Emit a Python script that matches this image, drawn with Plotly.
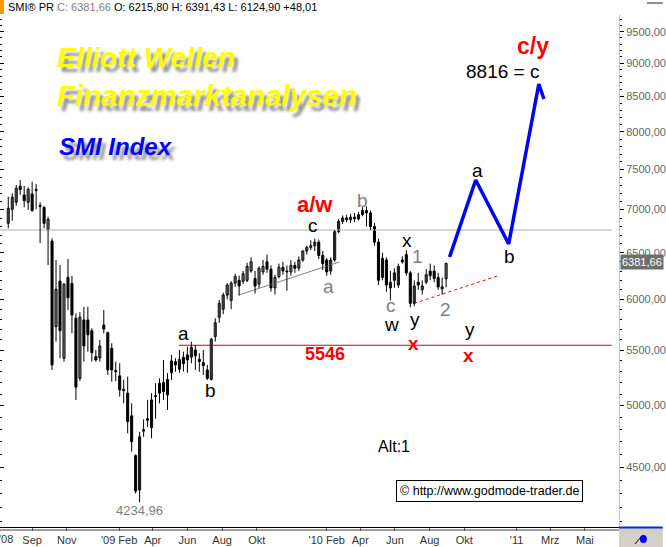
import plotly.graph_objects as go
import pandas as pd

# ---------------- data ----------------
weeks = pd.date_range("2008-07-21", periods=111, freq="7D")

smi_open = [6837, 7004, 7089, 7286, 7178, 7089, 7190, 7245, 7050, 7028,
            6767, 6633, 5726, 6192, 5424, 6232, 6168, 5809, 5240, 5792,
            5792, 5686, 5440, 5427, 5742, 5667, 5517, 5310, 5262, 5130,
            5108, 4913, 4589, 4326, 4786, 4876, 4815, 5080, 5108, 5202,
            5093, 5291, 5392, 5322, 5433, 5455, 5433, 5501, 5414, 5383,
            5316, 5231, 5630, 5819, 5900, 6045, 5990, 6170, 6200, 6190,
            6200, 6300, 6220, 6160, 6290, 6400, 6320, 6120, 6240, 6340,
            6300, 6290, 6360, 6330, 6420, 6520, 6560, 6580, 6620, 6470,
            6420, 6300, 6420, 6740, 6860, 6900, 6880, 6910, 6890, 6940,
            6990, 6960, 6800, 6620, 6230, 6420, 6120, 6200, 6150, 6420,
            6480, 6280, 5960, 6180, 6100, 6180, 6300, 6300, 6230, 6130,
            6215.80]
smi_high = [7158, 7199, 7302, 7365, 7290, 7273, 7344, 7315, 7089, 7040,
            6915, 6664, 6420, 6365, 6168, 6431, 6246, 5858, 5870, 5925,
            5925, 5710, 5501, 5597, 5892, 5677, 5565, 5392, 5377, 5225,
            5255, 5020, 4600, 4780, 4883, 5049, 5108, 5196, 5240, 5408,
            5287, 5455, 5424, 5501, 5485, 5532, 5581, 5548, 5470, 5501,
            5362, 5613, 5809, 5994, 6070, 6170, 6190, 6270, 6250, 6300,
            6390, 6450, 6300, 6350, 6420, 6480, 6360, 6260, 6380, 6400,
            6360, 6420, 6400, 6460, 6530, 6580, 6640, 6660, 6650, 6520,
            6440, 6450, 6760, 6890, 6930, 6940, 6950, 6960, 6970, 7030,
            7040, 6990, 6840, 6660, 6500, 6450, 6300, 6330, 6380, 6460,
            6530, 6300, 6200, 6280, 6200, 6320, 6380, 6360, 6280, 6230,
            6391.43]
smi_low = [6779, 6868, 7048, 7178, 7028, 6996, 6976, 7004, 6610, 6779,
           6365, 5316, 5581, 5424, 5392, 5892, 5661, 5049, 5216, 5392,
           5485, 5392, 5392, 5392, 5661, 5270, 5210, 5216, 5078, 5020,
           4768, 4620, 4300, 4235, 4740, 4820, 4728, 4890, 5020, 5049,
           4963, 5225, 5300, 5290, 5300, 5290, 5377, 5316, 5300, 5270,
           5225, 5219, 5581, 5765, 5850, 6000, 5900, 6130, 6040, 6160,
           6180, 6280, 6060, 6120, 6260, 6280, 6080, 6050, 6220, 6260,
           6090, 6250, 6280, 6300, 6400, 6480, 6530, 6520, 6430, 6310,
           6250, 6260, 6400, 6720, 6830, 6850, 6840, 6850, 6870, 6920,
           6800, 6760, 6580, 6150, 6200, 6080, 5990, 6120, 6120, 6380,
           6250, 5920, 5930, 6100, 6050, 6160, 6200, 6180, 6100, 6050,
           6124.90]
smi_close = [7016, 7150, 7261, 7245, 7108, 7248, 6988, 7235, 7040, 6837,
             6884, 5362, 6107, 5686, 6160, 6017, 5842, 5161, 5819, 5539,
             5647, 5476, 5408, 5539, 5703, 5316, 5316, 5300, 5137, 5143,
             4865, 4700, 4318, 4740, 4798, 4890, 5049, 5078, 5196, 5122,
             5231, 5399, 5362, 5414, 5372, 5408, 5526, 5446, 5392, 5355,
             5240, 5604, 5765, 5960, 6045, 6150, 6170, 6240, 6140, 6270,
             6350, 6400, 6140, 6330, 6350, 6320, 6120, 6230, 6340, 6300,
             6290, 6360, 6330, 6420, 6520, 6560, 6580, 6620, 6470, 6380,
             6290, 6420, 6740, 6860, 6900, 6880, 6910, 6890, 6940, 6990,
             6960, 6800, 6620, 6200, 6440, 6150, 6180, 6280, 6350, 6400,
             6280, 5960, 6140, 6150, 6140, 6260, 6250, 6220, 6130, 6110,
             6381.66]

# Elliott projection (blue)
proj_dates = ["2010-09-05", "2010-10-21", "2010-12-18", "2011-02-09", "2011-02-18"]
proj_values = [6453, 7365, 6599, 8684, 8464]

# horizontal levels and trend lines
level_5546_dates = ["2009-05-17", "2011-06-17"]
level_5546 = 5546
level_gray_dates = ["2008-07-06", "2011-06-17"]
level_gray = 6759
trend_gray_dates = ["2009-08-30", "2010-02-23"]
trend_gray_values = [6045, 6398]
trend_red_dates = ["2010-07-05", "2010-11-28"]
trend_red_values = [5960, 6246]

y_ticks = [4500, 5000, 5500, 6000, 6500, 7000, 7500, 8000, 8500, 9000, 9500]
y_ticktext = ["4500,00", "5000,00", "5500,00", "6000,00", "6500,00", "7000,00",
              "7500,00", "8000,00", "8500,00", "9000,00", "9500,00"]
y_minor = list(range(4100, 9800, 100))
x_tick_dates = ["2008-09-01", "2008-11-01", "2009-02-01", "2009-04-01", "2009-06-01",
                "2009-08-01", "2009-10-01", "2010-02-01", "2010-04-01", "2010-06-01",
                "2010-08-01", "2010-10-01", "2011-01-01", "2011-03-01", "2011-05-01"]
x_ticktext = ["Sep", "Nov", "'09 Feb", "Apr", "Jun", "Aug", "Okt", "'10 Feb", "Apr",
              "Jun", "Aug", "Okt", "'11", "Mrz", "Mai"]

last_close_label = "6381,66"

# ---------------- layout helpers ----------------
W, H = 666, 547
PL, PR, PT, PB = 0, 622, 15, 527          # plot area in pixels
FONT = "Liberation Sans, Arial, sans-serif"
DAY_MS = 86400000


def px(x):
    return (x - PL) / (PR - PL)


def py(y):
    return (PB - y) / (PB - PT)


fig = go.Figure()

fig.add_trace(go.Scatter(x=level_gray_dates, y=[level_gray, level_gray], mode="lines",
                         line=dict(color="#C8C8C8", width=1.5), hoverinfo="skip"))
fig.add_trace(go.Scatter(x=level_5546_dates, y=[level_5546, level_5546], mode="lines",
                         line=dict(color="#E00000", width=1), hoverinfo="skip"))
fig.add_trace(go.Scatter(x=trend_gray_dates, y=trend_gray_values, mode="lines",
                         line=dict(color="#808080", width=1), hoverinfo="skip"))
fig.add_trace(go.Scatter(x=trend_red_dates, y=trend_red_values, mode="lines",
                         line=dict(color="#FF0000", width=1, dash="dot"), hoverinfo="skip"))

# candle wicks
wx, wy = [], []
for d, lo, hi in zip(weeks, smi_low, smi_high):
    wx += [d, d, None]
    wy += [lo, hi, None]
fig.add_trace(go.Scatter(x=wx, y=wy, mode="lines", line=dict(color="black", width=1),
                         hoverinfo="skip"))

# candle bodies
for up in (True, False):
    xs, base, size = [], [], []
    for d, o, c in zip(weeks, smi_open, smi_close):
        if (c >= o) == up:
            xs.append(d)
            base.append(min(o, c))
            size.append(max(abs(c - o), min(o, c) * 0.0015))
    fig.add_trace(go.Bar(x=xs, y=size, base=base, width=3.6 * DAY_MS,
                         marker=dict(color="white" if up else "black",
                                     line=dict(color="black", width=1)),
                         hoverinfo="skip"))

fig.add_trace(go.Scatter(x=proj_dates, y=proj_values, mode="lines",
                         line=dict(color="#0000FF", width=3.5), hoverinfo="skip"))

# dummy trace for the left tick column
fig.add_trace(go.Scatter(x=[weeks[0]], y=[7000], yaxis="y2", mode="markers",
                         marker=dict(opacity=0), hoverinfo="skip"))

ann = []


def label(text, x, y, color="black", size=19, bold=False, xanchor="center"):
    t = f"<b>{text}</b>" if bold else text
    ann.append(dict(text=t, x=px(x), y=py(y), xref="paper", yref="paper",
                    xanchor=xanchor, yanchor="middle", showarrow=False,
                    font=dict(family=FONT, size=size, color=color)))


GRAY = "#7F7F7F"
RED = "#FF0000"
label("a/w", 317, 204, RED, 22, True)
label("c", 315, 225)
label("b", 364, 200, GRAY)
label("a", 330, 286, GRAY)
label("c", 393, 305, GRAY)
label("w", 393, 324)
label("x", 409, 240)
label("1", 420, 256, GRAY)
label("y", 417, 319)
label("2", 448, 309, GRAY)
label("a", 184, 333)
label("b", 212, 390)
label("4234,96", 140, 510, GRAY, 13)
label("5546", 327, 354, RED, 18, True)
label("x", 416, 343, RED, 19, True)
label("x", 471, 355, RED, 19, True)
label("y", 472, 329)
label("a", 480, 170)
label("b", 512, 256)
label("c/y", 536, 46, RED, 23, True)
label("8816 = c", 505, 71, "black", 19)
label("Alt:1", 396, 446, "black", 16)

# titles with soft drop shadow
for txt, x, y, col, sz in [("Elliott Wellen", 55, 57, "#FFFF00", 28.5),
                           ("Finanzmarktanalysen", 55, 95, "#FFFF00", 29.5),
                           ("SMI Index", 57, 146, "#0000FF", 24)]:
    ann.append(dict(text=f"<b><i>{txt}</i></b>", x=px(x), y=py(y), xref="paper", yref="paper",
                    xanchor="left", yanchor="middle", showarrow=False,
                    font=dict(family=FONT, size=sz, color=col,
                              shadow="4px 5px 3px rgba(60,60,60,0.55)")))

# header line
ann.append(dict(text="SMI® PR <span style='color:#808080'>C: 6381,66</span> O: 6215,80 H: 6391,43 L: 6124,90 +48,01",
                x=px(6), y=py(7), xref="paper", yref="paper", xanchor="left", yanchor="middle",
                showarrow=False, font=dict(family=FONT, size=11, color="black")))

# copyright box
ann.append(dict(text="© http://www.godmode-trader.de", x=px(492), y=py(491), xref="paper",
                yref="paper", xanchor="center", yanchor="middle", showarrow=False,
                bgcolor="white", bordercolor="black", borderwidth=1, borderpad=3,
                font=dict(family=FONT, size=12.5, color="black")))

# last price box
ann.append(dict(text=last_close_label, x=px(623), y=py(262), xref="paper", yref="paper",
                xanchor="left", yanchor="middle", showarrow=False, bgcolor="#6E6E6E",
                borderpad=1, font=dict(family=FONT, size=11, color="white")))

# '08 label at the left
ann.append(dict(text="'08", x=px(6), y=py(539), xref="paper", yref="paper", xanchor="center",
                yanchor="middle", showarrow=False, font=dict(family=FONT, size=11, color="#333333")))

shapes = [
    dict(type="rect", xref="paper", yref="paper", x0=px(0), x1=px(4), y0=py(14), y1=py(0),
         fillcolor="#FF9900", line=dict(width=0)),
    dict(type="rect", xref="paper", yref="paper", x0=px(622), x1=px(666), y0=py(547), y1=py(528),
         fillcolor="#D4D0C8", line=dict(width=0)),
    dict(type="line", xref="paper", yref="paper", x0=px(622), x1=px(666), y0=py(527.5), y1=py(527.5),
         line=dict(color="#0033CC", width=2)),
    dict(type="line", xref="paper", yref="paper", x0=px(0), x1=px(622), y0=py(530), y1=py(530),
         line=dict(color="#404040", width=1)),
    dict(type="line", xref="paper", yref="paper", x0=px(650), x1=px(666), y0=py(3), y1=py(3),
         line=dict(color="#909090", width=2)),
    dict(type="line", xref="paper", yref="paper", x0=px(638), x1=px(645), y0=py(544), y1=py(536),
         line=dict(color="black", width=1)),
    dict(type="circle", xref="paper", yref="paper", x0=px(643), x1=px(650), y0=py(543), y1=py(535),
         fillcolor="#0000FF", line=dict(width=0)),
]

yr = [3.608505, 3.99017]
fig.update_layout(
    width=W, height=H,
    margin=dict(l=PL, r=W - PR, t=PT, b=H - PB, pad=0),
    paper_bgcolor="white", plot_bgcolor="white",
    showlegend=False, barmode="overlay",
    annotations=ann, shapes=shapes,
    font=dict(family=FONT),
    xaxis=dict(type="date", range=["2008-07-06 11:24", "2011-06-30"],
               tickvals=x_tick_dates, ticktext=x_ticktext,
               ticks="outside", ticklen=3, tickcolor="#606060",
               tickfont=dict(family=FONT, size=11, color="#333333"),
               showgrid=False, zeroline=False,
               showline=True, linecolor="black", linewidth=1),
    yaxis=dict(type="log", range=yr, side="right",
               tickvals=y_ticks, ticktext=y_ticktext,
               ticks="outside", ticklen=4, tickcolor="black",
               tickfont=dict(family=FONT, size=11, color="#666666"),
               minor=dict(tickvals=y_minor, ticks="outside", ticklen=2, tickcolor="black"),
               showgrid=False, zeroline=False,
               showline=True, linecolor="#FFCC00", linewidth=1),
    yaxis2=dict(type="log", range=yr, overlaying="y", side="left",
                tickvals=y_ticks, showticklabels=False,
                ticks="inside", ticklen=4, tickcolor="black",
                minor=dict(tickvals=y_minor, ticks="inside", ticklen=2, tickcolor="black"),
                showgrid=False, zeroline=False, showline=False),
)

fig.write_html("out.html", config={"displayModeBar": False},
               post_script="document.body.style.margin='0px';document.body.style.padding='0px';"
                           "document.body.style.overflow='hidden';")
